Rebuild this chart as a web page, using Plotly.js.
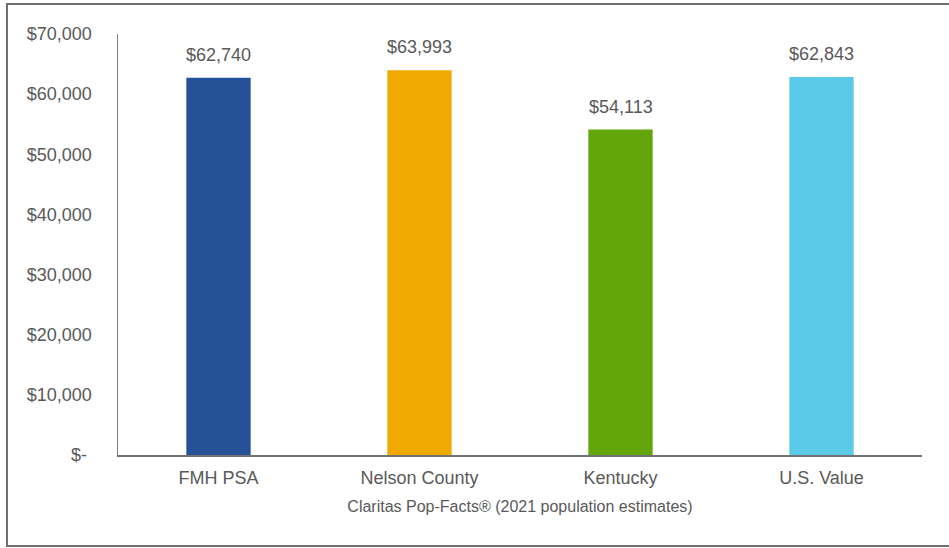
<!DOCTYPE html>
<html>
<head>
<meta charset="utf-8">
<script src="https://cdn.plot.ly/plotly-3.0.1.min.js"></script>
<style>html,body{margin:0;padding:0;background:#fff;}#chart{width:949px;height:548px;}</style>
</head>
<body>
<div id="chart"></div>
<script>
const categories = ["FMH PSA", "Nelson County", "Kentucky", "U.S. Value"];
const values = [62740, 63993, 54113, 62843];
const barColors = ["#245197", "#F0A900", "#63A60B", "#5BCAE8"];
const tickVals = [0, 10000, 20000, 30000, 40000, 50000, 60000, 70000];
const tickText = ["$-\u00a0", "$10,000", "$20,000", "$30,000", "$40,000", "$50,000", "$60,000", "$70,000"];
const xTitle = "Claritas Pop-Facts® (2021 population estimates)";

const W = 949, H = 548;
const m = {l: 118, r: 27, t: 34, b: 93};
const pw = W - m.l - m.r, ph = H - m.t - m.b;
const px = x => (x - m.l) / pw;
const py = y => (H - m.b - y) / ph;

const fmt = v => "$" + v.toLocaleString("en-US");
const textColor = "#595959";
const font = "Liberation Sans, Arial, sans-serif";

const trace = {
  type: "bar",
  x: categories,
  y: values,
  marker: {color: barColors},
  width: 0.32,
  hoverinfo: "none"
};

const annotations = categories.map((c, i) => ({
  x: c, y: values[i], xref: "x", yref: "y",
  text: fmt(values[i]), showarrow: false,
  yanchor: "bottom", yshift: 11,
  font: {family: font, size: 18, color: textColor}
}));

const layout = {
  width: W, height: H,
  margin: m,
  paper_bgcolor: "#fff", plot_bgcolor: "#fff",
  showlegend: false,
  font: {family: font, color: textColor},
  xaxis: {
    type: "category",
    showgrid: false, zeroline: false,
    showline: true, linecolor: "#737373", linewidth: 2,
    ticks: "", tickfont: {family: font, size: 18, color: textColor},
    ticklabelstandoff: 5,
    title: {text: xTitle, font: {family: font, size: 16, color: textColor}, standoff: 14}
  },
  yaxis: {
    range: [0, 70000],
    tickmode: "array", tickvals: tickVals, ticktext: tickText,
    showgrid: false, zeroline: false,
    showline: true, linecolor: "#808080", linewidth: 1.5,
    ticks: "", tickfont: {family: font, size: 18, color: textColor},
    ticklabelstandoff: 21
  },
  annotations: annotations,
  shapes: [{
    type: "rect", xref: "paper", yref: "paper",
    x0: px(7), x1: px(952), y0: py(546), y1: py(4),
    line: {color: "#6f6f6f", width: 2}, fillcolor: "rgba(0,0,0,0)", layer: "above"
  }]
};

Plotly.newPlot("chart", [trace], layout, {staticPlot: true, displayModeBar: false});
</script>
</body>
</html>
